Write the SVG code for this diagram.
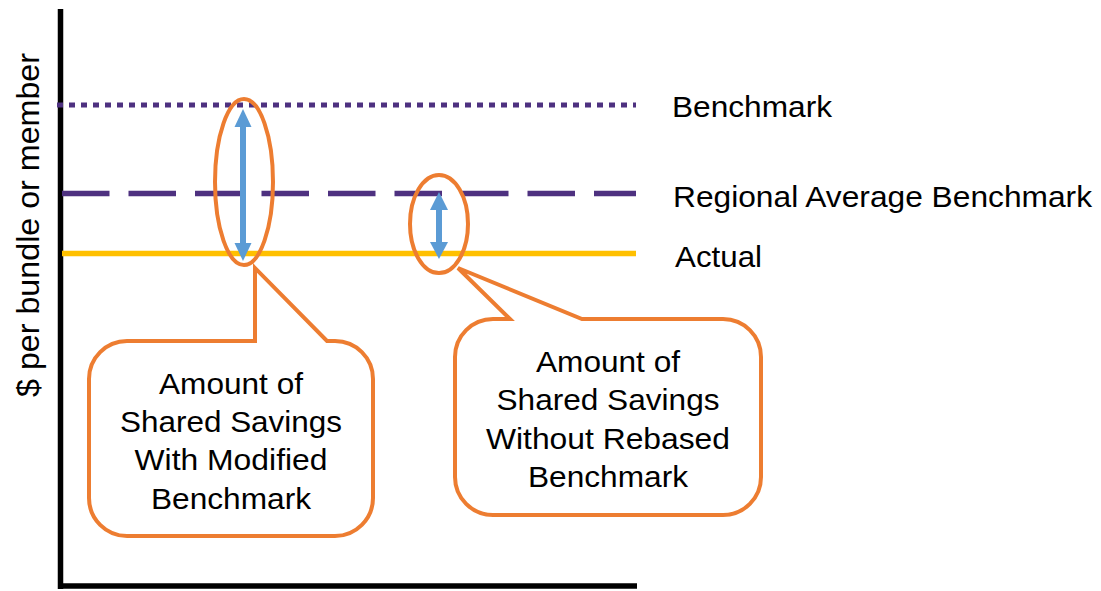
<svg xmlns="http://www.w3.org/2000/svg" width="1101" height="591" viewBox="0 0 1101 591">
<style>
text{font-family:"Liberation Sans",Arial,sans-serif;fill:#000;}
.lbl{font-size:30px;}
.ctr{font-size:30px;text-anchor:middle;}
.axis{stroke:#000;stroke-width:5.5;fill:none;}
.ring{fill:none;stroke:#ED7D31;stroke-width:4;}
.call{fill:#fff;stroke:#ED7D31;stroke-width:4;stroke-linejoin:miter;}
.shaft{stroke:#5B9BD5;stroke-width:6;}
.head{fill:#5B9BD5;}
</style>
<rect width="1101" height="591" fill="#fff"/>
<g id="axes">
<line class="axis" x1="60.5" y1="9" x2="60.5" y2="589"/>
<line class="axis" x1="58" y1="586" x2="637" y2="586"/>
<text x="39" y="225" transform="rotate(-90 39 225)" style="font-size:31px;text-anchor:middle" textLength="344" lengthAdjust="spacingAndGlyphs">$ per bundle or member</text>
</g>
<g id="levels">
<line x1="57" y1="105" x2="636" y2="105" stroke="#4E3180" stroke-width="5" stroke-dasharray="6 6"/>
<line x1="62" y1="193.5" x2="636" y2="193.5" stroke="#4E3180" stroke-width="5.5" stroke-dasharray="47.5 19"/>
<line x1="62" y1="253.5" x2="636" y2="253.5" stroke="#FFC000" stroke-width="5.5"/>
</g>
<g id="labels">
<text class="lbl" x="672" y="117" textLength="160" lengthAdjust="spacingAndGlyphs">Benchmark</text>
<text class="lbl" x="673" y="206.5" textLength="419" lengthAdjust="spacingAndGlyphs">Regional Average Benchmark</text>
<text class="lbl" x="675" y="267" textLength="87" lengthAdjust="spacingAndGlyphs">Actual</text>
</g>
<g id="connectors">
<line class="shaft" x1="243" y1="122" x2="243" y2="248"/>
<polygon class="head" points="243,109 234.5,127 251.5,127"/>
<polygon class="head" points="243,261 234.5,243 251.5,243"/>
<line class="shaft" x1="439" y1="205" x2="439" y2="246"/>
<polygon class="head" points="439,192 430,210 448,210"/>
<polygon class="head" points="439,259 430,242 448,242"/>
</g>
<g id="ring1"><ellipse class="ring" cx="244" cy="182" rx="29" ry="83"/></g>
<g id="ring2"><ellipse class="ring" cx="439" cy="224" rx="29" ry="49"/></g>
<g id="callout1">
<path class="call" d="M127 341 H255 V268 L327 341 H335 A38 38 0 0 1 373 379 V498 A38 38 0 0 1 335 536 H127 A38 38 0 0 1 89 498 V379 A38 38 0 0 1 127 341 Z"/>
<text class="ctr" x="231" y="393.5" textLength="144" lengthAdjust="spacingAndGlyphs">Amount of</text>
<text class="ctr" x="231" y="432" textLength="222" lengthAdjust="spacingAndGlyphs">Shared Savings</text>
<text class="ctr" x="231" y="470" textLength="193" lengthAdjust="spacingAndGlyphs">With Modified</text>
<text class="ctr" x="231" y="508.5" textLength="160" lengthAdjust="spacingAndGlyphs">Benchmark</text>
</g>
<g id="callout2">
<path class="call" d="M493 319 H510 L458 268 L582 319 H723 A38 38 0 0 1 761 357 V477 A38 38 0 0 1 723 515 H493 A38 38 0 0 1 455 477 V357 A38 38 0 0 1 493 319 Z"/>
<text class="ctr" x="608" y="372" textLength="144" lengthAdjust="spacingAndGlyphs">Amount of</text>
<text class="ctr" x="608" y="410" textLength="223" lengthAdjust="spacingAndGlyphs">Shared Savings</text>
<text class="ctr" x="608" y="448.5" textLength="244" lengthAdjust="spacingAndGlyphs">Without Rebased</text>
<text class="ctr" x="608" y="487" textLength="160" lengthAdjust="spacingAndGlyphs">Benchmark</text>
</g>
</svg>
